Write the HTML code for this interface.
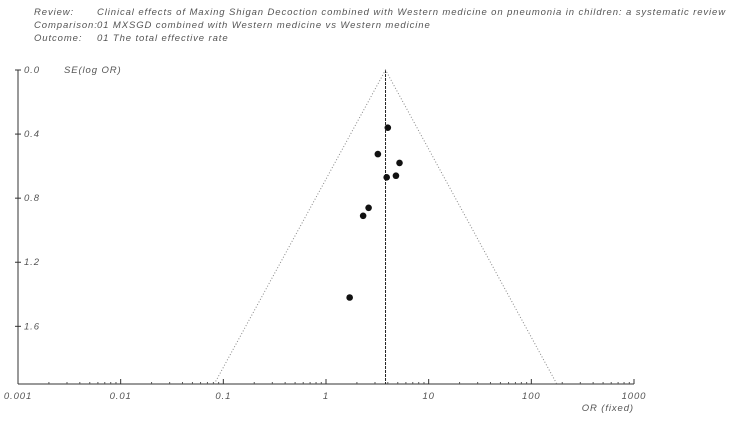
<!DOCTYPE html>
<html><head><meta charset="utf-8"><style>
body{margin:0;background:#fff;width:754px;height:423px;overflow:hidden;font-family:"Liberation Sans",sans-serif}
svg text{font-family:"Liberation Sans",sans-serif;font-size:9.5px;fill:#555;font-style:italic;letter-spacing:0.9px}
</style></head><body>
<svg id="c" width="754" height="423">
<text x="34" y="15">Review:</text>
<text x="97" y="15">Clinical effects of Maxing Shigan Decoction combined with Western medicine on pneumonia in children: a systematic review</text>
<text x="34" y="28">Comparison:</text>
<text x="97" y="28">01 MXSGD combined with Western medicine vs Western medicine</text>
<text x="34" y="41">Outcome:</text>
<text x="97" y="41">01 The total effective rate</text>
<text x="64" y="73">SE(log OR)</text>
<text x="634" y="411" text-anchor="end">OR (fixed)</text>
<g id="g"></g>
</svg>
<script>
const xTicks=[0.001,0.01,0.1,1,10,100,1000];
const xTickLabels=["0.001","0.01","0.1","1","10","100","1000"];
const yTicks=[0,0.4,0.8,1.2,1.6];
const yTickLabels=["0.0","0.4","0.8","1.2","1.6"];
const studyOR=[4.0,3.2,5.2,3.9,4.8,2.6,2.3,1.7];
const studySE=[0.36,0.525,0.58,0.67,0.66,0.86,0.91,1.42];
const pooledOR=3.8;
const seMax=1.96;
const X0=18,X1=634,Y0=70,Y1=384;
const xs=v=>X0+(Math.log10(v)+3)/6*(X1-X0);
const ys=s=>Y0+s/seMax*(Y1-Y0);
const g=document.getElementById('g');const NS="http://www.w3.org/2000/svg";
function mk(t,a){const e=document.createElementNS(NS,t);for(const k in a)e.setAttribute(k,a[k]);g.appendChild(e);return e;}
let e;
e=mk('line',{x1:X0,y1:Y0,x2:X0,y2:Y1,stroke:'#333','stroke-width':1});


e=mk('line',{x1:X0,y1:Y1,x2:X1,y2:Y1,stroke:'#333','stroke-width':1});


xTicks.forEach((v,i)=>{const x=xs(v);
e=mk('line',{x1:x,y1:Y1,x2:x,y2:Y1-5,stroke:'#333'});


if(i<xTicks.length-1){for(let m=2;m<10;m++){const mx=xs(v*m);
e=mk('line',{x1:mx,y1:Y1,x2:mx,y2:Y1-2,stroke:'#555'});

}}
e=mk('text',{x:x,y:Y1+15,'text-anchor':'middle'});e.textContent=xTickLabels[i];


});
yTicks.forEach((v,i)=>{const y=ys(v);
e=mk('line',{x1:X0-3,y1:y,x2:X0+3,y2:y,stroke:'#333'});


e=mk('text',{x:X0+6,y:y+3});e.textContent=yTickLabels[i];


});
const px=xs(pooledOR);
e=mk('line',{x1:px,y1:Y0,x2:px,y2:Y1,stroke:'#222','stroke-dasharray':'3,1'});


const lo=xs(Math.exp(Math.log(pooledOR)-1.96*seMax)),hi=xs(Math.exp(Math.log(pooledOR)+1.96*seMax));
e=mk('polyline',{points:`${lo},${Y1} ${px},${Y0} ${hi},${Y1}`,fill:'none',stroke:'#888','stroke-dasharray':'1,2'});


studyOR.forEach((v,i)=>{
e=mk('circle',{cx:xs(v),cy:ys(studySE[i]),r:3.3,fill:'#111'});


});
</script>
</body></html>
